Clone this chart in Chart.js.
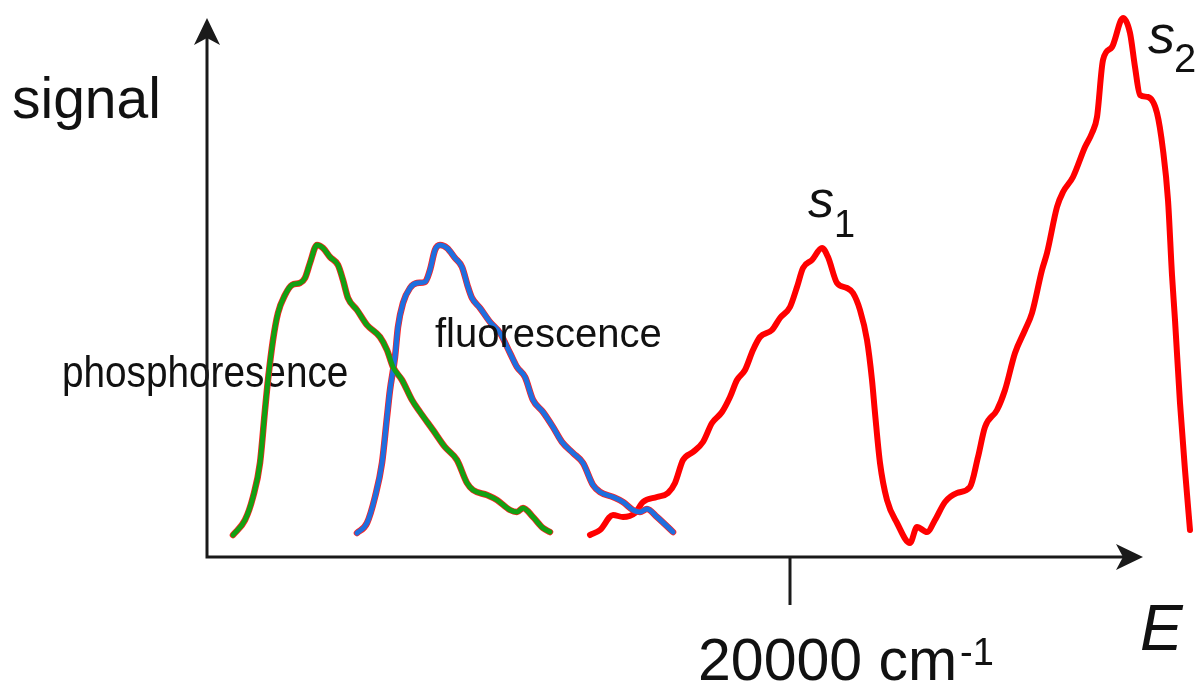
<!DOCTYPE html>
<html>
<head>
<meta charset="utf-8">
<script src="https://cdn.jsdelivr.net/npm/chart.js@4"></script>
<style>
  body { margin: 0; background: #fff; }
  canvas { display: block; }
</style>
</head>
<body>
<canvas id="spectrum" width="1197" height="683"></canvas>
<script>
// Values (arbitrary energy / signal units)
var phosX = [26, 38, 46, 53, 58, 61, 66, 71, 78, 85, 93, 98, 103, 110, 116, 123, 131, 136, 141, 150,
  160, 173, 180, 186, 195, 205, 213, 226, 238, 250, 260, 266, 280, 290, 303, 310, 316, 326, 336, 343];
var phosY = [22, 37, 60, 94, 147, 177, 217, 244, 262, 272, 274, 279, 294, 312, 309, 300, 292, 277, 259, 247,
  232, 220, 207, 190, 177, 157, 145, 127, 110, 97, 74, 67, 62, 57, 47, 45, 49, 40, 29, 25];

var fluoX = [150, 160, 168, 175, 180, 183, 188, 191, 196, 203, 210, 218, 223, 228, 233, 240, 248, 255, 261, 265,
  273, 283, 293, 303, 310, 318, 326, 336, 346, 355, 366, 376, 386, 393, 406, 416, 426, 433, 440, 450, 466];
var fluoY = [24, 34, 60, 94, 140, 167, 200, 230, 254, 269, 274, 275, 287, 307, 312, 309, 299, 290, 270, 259,
  249, 235, 224, 204, 190, 180, 157, 145, 130, 115, 104, 94, 72, 65, 60, 55, 47, 45, 48, 40, 25];

var absX = [383, 393, 406, 416, 428, 436, 450, 461, 468, 476, 486, 496, 505, 515, 523, 530, 538, 546, 553, 565,
  573, 583, 590, 596, 605, 615, 621, 630, 640, 646, 653, 660, 665, 668, 673, 680, 690, 703, 710, 720,
  728, 738, 750, 763, 771, 778, 790, 798, 808, 818, 825, 835, 840, 850, 856, 866, 878, 885, 890, 896,
  905, 916, 923, 928, 933, 941, 950, 956, 961, 965, 968, 973, 978, 983];
var absY = [22, 27, 42, 40, 44, 55, 60, 64, 74, 97, 105, 115, 134, 145, 160, 177, 187, 207, 220, 227,
  239, 250, 270, 289, 297, 309, 300, 274, 269, 264, 247, 217, 177, 144, 94, 57, 34, 14, 30, 25,
  37, 55, 64, 70, 100, 130, 147, 167, 204, 227, 244, 287, 304, 350, 365, 380, 410, 424, 440, 497,
  510, 539, 524, 490, 462, 460, 444, 407, 357, 282, 237, 154, 87, 27];

var tickValues = [583];
var tickLabels = ["20000 cm"];
var tickSup = "-1";

var FONT = '"Liberation Sans", Arial, sans-serif';

function toPoints(xs, ys) {
  var pts = [];
  for (let i = 0; i < xs.length; i++) {
    pts.push({ x: xs[i], y: ys[i] });
  }
  return pts;
}

function lineSet(pts, color, width, order) {
  return {
    data: pts,
    borderColor: color,
    borderWidth: width,
    pointRadius: 0,
    tension: 0.4,
    cubicInterpolationMode: "monotone",
    borderCapStyle: "round",
    borderJoinStyle: "round",
    fill: false,
    order: order,
  };
}

function arrowHead(ctx, tipX, tipY, dirX, dirY) {
  // notched arrow head pointing along (dirX, dirY)
  var len = 27, half = 13, notch = 7;
  var px = -dirY, py = dirX;
  ctx.beginPath();
  ctx.moveTo(tipX, tipY);
  ctx.lineTo(tipX - dirX * len + px * half, tipY - dirY * len + py * half);
  ctx.lineTo(tipX - dirX * (len - notch), tipY - dirY * (len - notch));
  ctx.lineTo(tipX - dirX * len - px * half, tipY - dirY * len - py * half);
  ctx.closePath();
  ctx.fill();
}

var axesPlugin = {
  id: "axesPlugin",
  beforeDatasetsDraw: function (chart) {
    var ctx = chart.ctx;
    var x = chart.scales.x, y = chart.scales.y;
    var x0 = x.getPixelForValue(0), y0 = y.getPixelForValue(0);

    ctx.save();
    // phosphorescence label sits under the curves and axis
    ctx.fillStyle = "#111";
    ctx.font = "44px " + FONT;
    ctx.textBaseline = "alphabetic";
    ctx.translate(62, 387);
    ctx.scale(0.88, 1);
    ctx.fillText("phosphoresence", 0, 0);
    ctx.restore();

    ctx.save();
    ctx.strokeStyle = "#1a1a1a";
    ctx.fillStyle = "#1a1a1a";
    ctx.lineWidth = 3;
    var xEnd = x.getPixelForValue(936);
    var yEnd = y.getPixelForValue(539);
    ctx.beginPath();
    ctx.moveTo(x0, yEnd + 10);
    ctx.lineTo(x0, y0);
    ctx.lineTo(xEnd - 10, y0);
    ctx.stroke();
    arrowHead(ctx, x0, yEnd, 0, -1);
    arrowHead(ctx, xEnd, y0, 1, 0);

    // tick marks
    tickValues.forEach(function (v) {
      var tx = x.getPixelForValue(v);
      ctx.beginPath();
      ctx.moveTo(tx, y0);
      ctx.lineTo(tx, y0 + 48);
      ctx.stroke();
    });
    ctx.restore();
  },
  afterDatasetsDraw: function (chart) {
    var ctx = chart.ctx;
    ctx.save();
    ctx.fillStyle = "#111";
    ctx.textBaseline = "alphabetic";

    ctx.font = "57px " + FONT;
    ctx.fillText("signal", 12, 118);

    ctx.font = "40px " + FONT;
    ctx.fillText("fluorescence", 435, 347);

    // s1 and s2 labels
    ctx.font = "italic 52px " + FONT;
    ctx.fillText("s", 808, 217);
    ctx.font = "38px " + FONT;
    ctx.fillText("1", 834, 237);
    ctx.font = "italic 54px " + FONT;
    ctx.fillText("s", 1148, 53);
    ctx.font = "40px " + FONT;
    ctx.fillText("2", 1174, 72);

    // tick label with superscript
    tickValues.forEach(function (v, i) {
      ctx.font = "59px " + FONT;
      var lx = 698;
      ctx.fillText(tickLabels[i], lx, 680);
      var w = ctx.measureText(tickLabels[i]).width;
      ctx.font = "38px " + FONT;
      ctx.fillText(tickSup, lx + w + 3, 665);
    });

    ctx.font = "italic 64px " + FONT;
    ctx.fillText("E", 1140, 650);
    ctx.restore();
  },
};

DOM_Ready();

function DOM_Ready() {
  var ctx = document.getElementById("spectrum").getContext("2d");
  var phos = toPoints(phosX, phosY);
  var fluo = toPoints(fluoX, fluoY);
  var abs = toPoints(absX, absY);

  new Chart(ctx, {
    type: "line",
    data: {
      datasets: [
        lineSet(phos, "#13a013", 5, 1),
        lineSet(phos, "#ff2020", 6.5, 2),
        lineSet(fluo, "#1f6fde", 5, 1),
        lineSet(fluo, "#ff2020", 6.5, 2),
        lineSet(abs, "#ff0000", 6, 3),
      ],
    },
    options: {
      responsive: false,
      animation: false,
      layout: { padding: { left: 207, right: 0, top: 0, bottom: 126 } },
      scales: {
        x: { type: "linear", min: 0, max: 990, display: false },
        y: { type: "linear", min: 0, max: 557, display: false },
      },
      plugins: {
        legend: { display: false },
        tooltip: { enabled: false },
      },
    },
    plugins: [axesPlugin],
  });
}
</script>
</body>
</html>
